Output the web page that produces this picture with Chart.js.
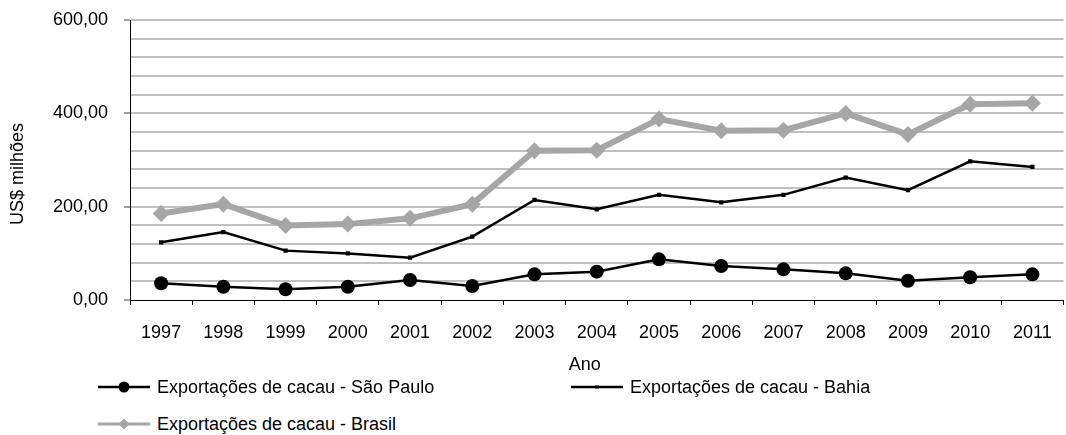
<!DOCTYPE html>
<html>
<head>
<meta charset="utf-8">
<script src="https://cdn.jsdelivr.net/npm/chart.js@4/dist/chart.umd.min.js"></script>
<style>
  html, body { margin: 0; padding: 0; background: #fff; overflow: hidden; width: 1066px; height: 435px; }
  #wrap { position: absolute; left: 0; top: 0; width: 1072px; height: 378px; }
  .leg { position: absolute; height: 20px; display: flex; align-items: center; font-family: "Liberation Sans", Arial, sans-serif; font-size: 18px; color: #000; white-space: nowrap; }
  .leg svg { display: block; margin-right: 6px; }
</style>
</head>
<body>
<div id="wrap"><canvas id="c" width="1072" height="378"></canvas></div>
<div class="leg" style="left:98px; top:377px;">
  <svg width="53" height="20"><line x1="0" y1="10" x2="52" y2="10" stroke="#000" stroke-width="2.5"/><circle cx="26" cy="10" r="5.5" fill="#000"/></svg>
  <span id="l0"></span>
</div>
<div class="leg" style="left:571px; top:377px;">
  <svg width="53" height="20"><line x1="0" y1="10" x2="52" y2="10" stroke="#000" stroke-width="2.5"/><rect x="24" y="8.5" width="4" height="3" fill="#000"/></svg>
  <span id="l1"></span>
</div>
<div class="leg" style="left:98px; top:414px;">
  <svg width="53" height="20"><line x1="0" y1="10" x2="52" y2="10" stroke="#a6a6a6" stroke-width="3"/><polygon points="26,4.5 31.5,10 26,15.5 20.5,10" fill="#a6a6a6"/></svg>
  <span id="l2"></span>
</div>
<script>
const years = ['1997','1998','1999','2000','2001','2002','2003','2004','2005','2006','2007','2008','2009','2010','2011'];
const saoPaulo = [35.8, 28.5, 22.9, 28.5, 42.9, 30.0, 55.0, 60.7, 87.1, 72.9, 65.7, 57.1, 41.4, 48.6, 55.0];
const bahia = [123.7, 145.6, 105.8, 99.8, 90.8, 135.7, 214.4, 194.4, 225.3, 209.4, 225.3, 262.2, 235.3, 297.1, 285.1];
const brasil = [185.5, 205.4, 159.6, 162.6, 175.0, 205.4, 320.0, 321.0, 387.7, 362.8, 363.8, 399.7, 354.8, 419.6, 421.6];
const seriesNames = ['Exportações de cacau - São Paulo', 'Exportações de cacau - Bahia', 'Exportações de cacau - Brasil'];
const yTitle = 'US$ milhões';
const xTitle = 'Ano';
const yMin = 0, yMax = 600, yStep = 40, yLabelStep = 200;

document.getElementById('l0').textContent = seriesNames[0];
document.getElementById('l1').textContent = seriesNames[1];
document.getElementById('l2').textContent = seriesNames[2];

const FONT = '"Liberation Sans", Arial, sans-serif';

// Axis titles drawn relative to the chart area (Excel places them slightly off-centre)
const axisTitles = {
  id: 'axisTitles',
  afterDraw(chart) {
    const { ctx, chartArea } = chart;
    ctx.save();
    ctx.fillStyle = '#000';
    ctx.font = '18px ' + FONT;
    ctx.textAlign = 'center';
    ctx.textBaseline = 'middle';
    // x title
    ctx.fillText(xTitle, (chartArea.left + chartArea.right) / 2 - 12, 365);
    // y title
    ctx.translate(18, (chartArea.top + chartArea.bottom) / 2 + 14);
    ctx.rotate(-Math.PI / 2);
    ctx.fillText(yTitle, 0, 0);
    ctx.restore();
  }
};

new Chart(document.getElementById('c'), {
  type: 'line',
  data: {
    labels: years,
    datasets: [
      { label: seriesNames[2], data: brasil, borderColor: '#a6a6a6', backgroundColor: '#a6a6a6', borderWidth: 6,
        pointStyle: 'rectRot', pointRadius: 8.5, pointBorderWidth: 0, tension: 0, order: 3 },
      { label: seriesNames[1], data: bahia, borderColor: '#000', backgroundColor: '#000', borderWidth: 2.5,
        pointStyle: 'rect', pointRadius: 3, pointBorderWidth: 0, tension: 0, order: 2 },
      { label: seriesNames[0], data: saoPaulo, borderColor: '#000', backgroundColor: '#000', borderWidth: 2.5,
        pointStyle: 'circle', pointRadius: 7, pointBorderWidth: 0, tension: 0, order: 1 }
    ]
  },
  plugins: [axisTitles],
  options: {
    responsive: false,
    animation: false,
    devicePixelRatio: 1,
    layout: { padding: { top: 20, right: 0, bottom: 0, left: 0 } },
    plugins: { legend: { display: false }, tooltip: { enabled: false } },
    scales: {
      x: {
        offset: true,
        grid: { offset: true, drawOnChartArea: false, drawTicks: true, tickLength: 5, tickColor: '#000', tickWidth: 1 },
        border: { display: true, color: '#000', width: 1 },
        ticks: { color: '#000', font: { family: FONT, size: 18 }, padding: 17, maxRotation: 0, autoSkip: false },
        afterFit: (s) => { s.height = 78; s.paddingLeft = 0; s.paddingRight = 0; }
      },
      y: {
        min: yMin, max: yMax,
        grid: {
          color: (c) => (c.tick && c.tick.value === 0) ? 'rgba(0,0,0,0)' : '#c0c0c0',
          lineWidth: 2,
          drawTicks: true, tickLength: 6,
          tickColor: (c) => (c.tick && c.tick.value % yLabelStep === 0) ? '#444' : 'rgba(0,0,0,0)',
          tickWidth: 1
        },
        border: { display: true, color: '#000', width: 1 },
        ticks: {
          stepSize: yStep, color: '#000', font: { family: FONT, size: 18 }, padding: 16, autoSkip: false,
          callback: (v) => (v % yLabelStep === 0) ? v.toFixed(2).replace('.', ',') : ''
        },
        afterFit: (s) => { s.width = 130; s.paddingTop = 0; s.paddingBottom = 0; }
      }
    }
  }
});
</script>
</body>
</html>
